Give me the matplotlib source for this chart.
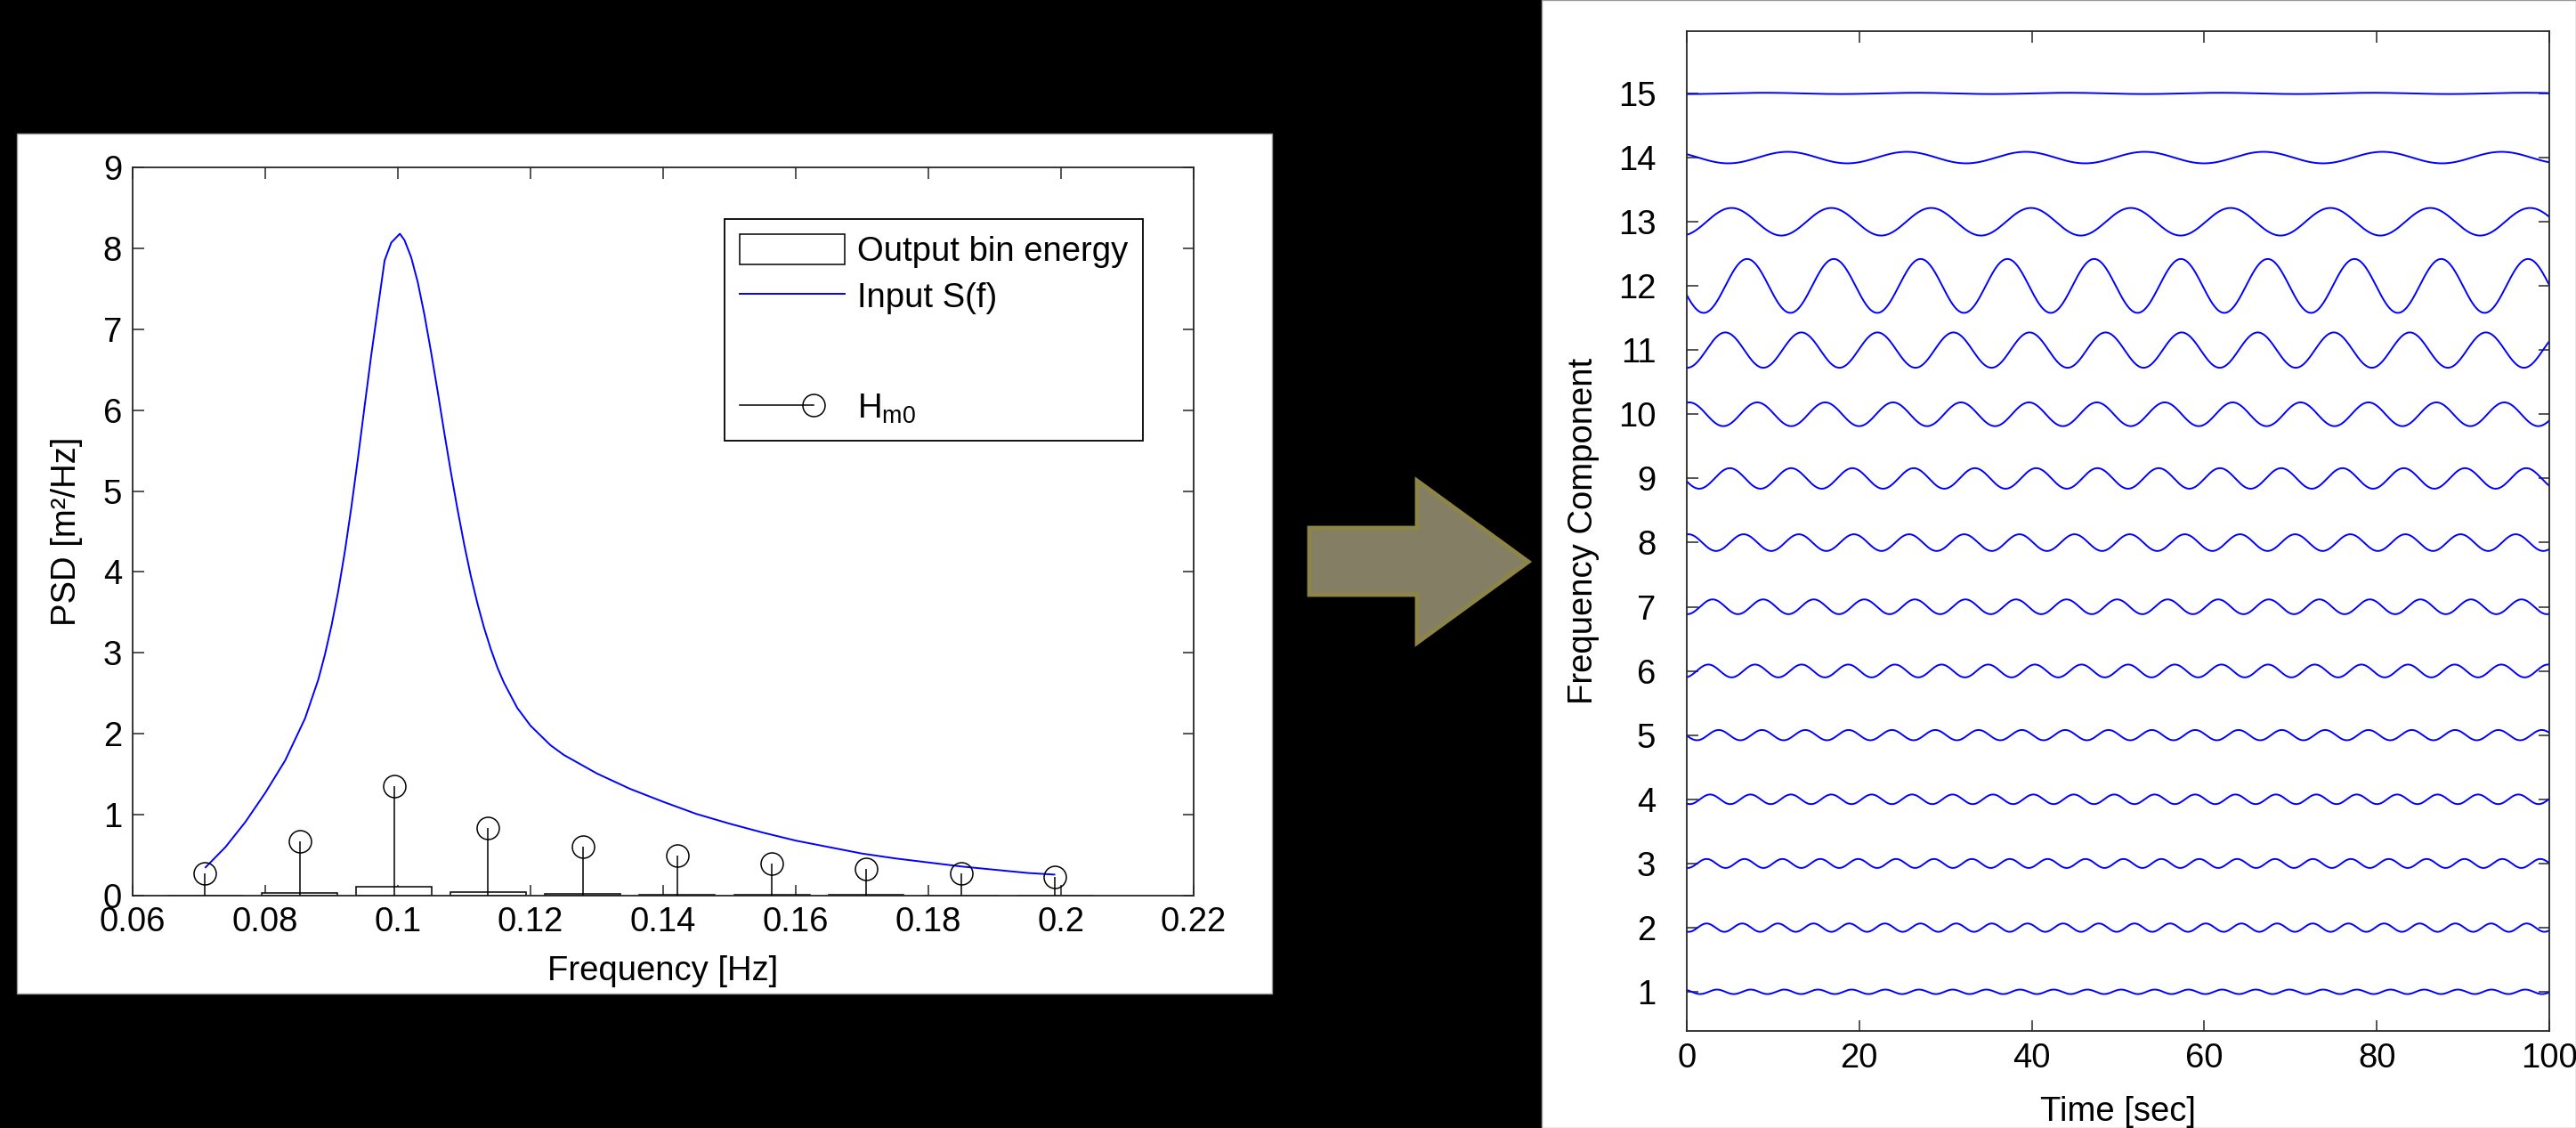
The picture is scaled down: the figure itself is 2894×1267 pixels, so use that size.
import numpy as np
import matplotlib
matplotlib.use('Agg')
import matplotlib.pyplot as plt
from matplotlib.patches import Rectangle, Polygon
from matplotlib.lines import Line2D
from matplotlib.legend_handler import HandlerBase

plt.rcParams['font.family'] = 'Liberation Sans'
plt.rcParams['mathtext.default'] = 'regular'
plt.rcParams['font.size'] = 27.5

# ---- left panel: input spectrum, bin energy, Hm0 per bin ----
freq_in = [0.071, 0.074, 0.077, 0.080, 0.083, 0.086, 0.088, 0.089, 0.090, 0.091,
           0.092, 0.093, 0.094, 0.095, 0.096, 0.097, 0.098, 0.099, 0.1003, 0.101,
           0.102, 0.103, 0.104, 0.105, 0.106, 0.107, 0.108, 0.109, 0.110, 0.111,
           0.112, 0.113, 0.114, 0.115, 0.116, 0.118, 0.120, 0.123, 0.125, 0.130,
           0.135, 0.140, 0.145, 0.150, 0.155, 0.160, 0.165, 0.170, 0.175, 0.180,
           0.185, 0.190, 0.195, 0.199]
psd_in = [0.35, 0.60, 0.91, 1.27, 1.67, 2.19, 2.67, 2.98, 3.34, 3.76,
          4.25, 4.81, 5.42, 6.06, 6.69, 7.27, 7.85, 8.07, 8.18, 8.10,
          7.89, 7.58, 7.18, 6.72, 6.23, 5.72, 5.23, 4.77, 4.34, 3.95,
          3.61, 3.31, 3.05, 2.82, 2.63, 2.32, 2.10, 1.86, 1.74, 1.51,
          1.32, 1.16, 1.01, 0.89, 0.78, 0.68, 0.60, 0.52, 0.46, 0.41,
          0.36, 0.32, 0.28, 0.26]

bin_freq = [0.0709, 0.0852, 0.0994, 0.1136, 0.1279, 0.1421, 0.1564, 0.1706, 0.1849, 0.1991]
bin_energy = [0.005, 0.028, 0.114, 0.044, 0.0225, 0.015, 0.010, 0.0068, 0.0049, 0.0033]
hm0 = [0.28, 0.67, 1.35, 0.84, 0.60, 0.49, 0.40, 0.33, 0.28, 0.23]

# ---- right panel: one sinusoid per frequency component ----
comp = list(range(1, 16))
comp_freq = [0.2561, 0.2419, 0.2276, 0.2134, 0.1991, 0.1849, 0.1706, 0.1564,
             0.1408, 0.1270, 0.1134, 0.0994, 0.0864, 0.0725, 0.0567]
comp_amp = [0.035, 0.065, 0.07, 0.075, 0.08, 0.10, 0.115, 0.13,
            0.16, 0.185, 0.275, 0.42, 0.215, 0.09, 0.01]
comp_tpeak = [3.5, 2.3, 2.3, 2.7, 3.7, 2.5, 3.0, 0.2,
              5.0, 0.3, 4.47, 6.99, 5.18, 11.7, 9.0]

W, H = 2894, 1267
def fbox(x0, y0, x1, y1):
    # pixel box (top-left origin) -> figure rect
    return [x0 / W, 1 - y1 / H, (x1 - x0) / W, (y1 - y0) / H]

fig = plt.figure(figsize=(W / 100, H / 100), dpi=100)
fig.patch.set_facecolor('black')

for (x0, y0, x1, y1) in [(19, 150, 1429, 1116), (1732, 0, 2894, 1267)]:
    r = fbox(x0, y0, x1, y1)
    fig.add_artist(Rectangle((r[0], r[1]), r[2], r[3], transform=fig.transFigure,
                             facecolor='white', edgecolor='#9a9a9a', lw=1, zorder=-1))

# arrow between the panels
ax_px = np.array([1471, 1592, 1592, 1717, 1592, 1592, 1471])
ay_px = np.array([593, 593, 540, 631, 722, 668, 668])
fig.add_artist(Polygon(np.column_stack([ax_px / W, 1 - ay_px / H]), closed=True,
                       transform=fig.transFigure, facecolor='#847f64',
                       edgecolor='#8d8548', lw=3.5, zorder=-1))

axcol = '#262626'

# ================= left =================
ax1 = fig.add_axes(fbox(149, 188, 1341, 1006))
bars = ax1.bar(bin_freq, bin_energy, width=0.0114, facecolor='white',
               edgecolor='black', lw=1.1, label='Output bin energy', zorder=2)
line, = ax1.plot(freq_in, psd_in, color='#0000ff', lw=1.4, label='Input S(f)', zorder=3)
ax1.vlines(bin_freq, 0, hm0, color='black', lw=1.1, zorder=4)
ax1.plot(bin_freq, hm0, ls='none', marker='o', ms=18, mfc='none', mec='black',
         mew=1.1, zorder=5)

ax1.set_xlim(0.06, 0.22)
ax1.set_ylim(0, 9)
ax1.set_xticks(np.arange(0.06, 0.2201, 0.02))
ax1.set_xticklabels(['0.06', '0.08', '0.1', '0.12', '0.14', '0.16', '0.18', '0.2', '0.22'])
ax1.set_yticks(range(10))
ax1.tick_params(direction='in', length=9, width=1.1, color=axcol, top=True, right=True, pad=8.6)
for s in ax1.spines.values():
    s.set_color(axcol)
    s.set_linewidth(1.3)
ax1.set_xlabel('Frequency [Hz]')
ax1.set_ylabel('PSD [m\u00b2/Hz]')
ax1.xaxis.set_label_coords(0.5, -0.082)
ax1.yaxis.set_label_coords(-0.047, 0.5)


class StemHandler(HandlerBase):
    def create_artists(self, legend, orig, xd, yd, w, h, fs, trans):
        y = (h - yd) / 2
        x1 = -xd + 0.70 * w
        ln = Line2D([-xd, x1], [y, y], color='black', lw=1.1, transform=trans)
        mk = Line2D([x1], [y], ls='none', marker='o', ms=18, mfc='none',
                    mec='black', mew=1.1, transform=trans)
        return [ln, mk]


blank = Line2D([], [], color='none')
stem_proxy = Line2D([], [], color='black')
leg = ax1.legend([bars, line, blank, stem_proxy],
                 ['Output bin energy', 'Input S(f)', ' ', 'H$_{m0}$'],
                 handler_map={stem_proxy: StemHandler()},
                 loc='upper right', bbox_to_anchor=(0.9522, 0.9291), borderaxespad=0,
                 fancybox=False, shadow=False, framealpha=1, edgecolor='black',
                 handlelength=3.1, handleheight=1.0, handletextpad=0.35,
                 labelspacing=0.35, borderpad=0.45)
leg.get_frame().set_linewidth(1.3)
leg.get_texts()[2].set_fontsize(46)

# ================= right =================
ax2 = fig.add_axes(fbox(1895, 35, 2864, 1158))
t = np.linspace(0, 100, 2001)
for k, f, a, tp in zip(comp, comp_freq, comp_amp, comp_tpeak):
    ax2.plot(t, k + a * np.cos(2 * np.pi * f * (t - tp)), color='#0000ff', lw=1.4)
ax2.set_xlim(0, 100)
ax2.set_ylim(0.39, 15.97)
ax2.set_xticks(range(0, 101, 20))
ax2.set_yticks(comp)
ax2.tick_params(axis='both', direction='in', length=9, width=1.1, color=axcol,
                top=True, right=True)
ax2.tick_params(axis='x', pad=9.4)
ax2.tick_params(axis='y', pad=25)
for s in ax2.spines.values():
    s.set_color(axcol)
    s.set_linewidth(1.3)
ax2.set_xlabel('Time [sec]')
ax2.set_ylabel('Frequency Component')
ax2.xaxis.set_label_coords(0.5, -0.065)
ax2.yaxis.set_label_coords(-0.101, 0.5)

fig.savefig('out.png', dpi=100, facecolor=fig.get_facecolor())
